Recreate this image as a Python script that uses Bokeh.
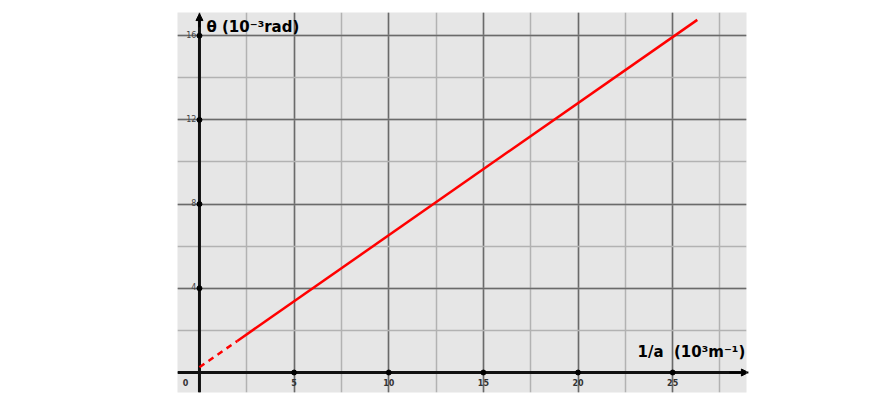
from bokeh.plotting import figure
from bokeh.models import SingleIntervalTicker, Arrow, NormalHead, Range1d
from bokeh.core.properties import value
from bokeh.embed import file_html
from bokeh.resources import INLINE

# data
x_dashed = [0.0, 2.0]
y_dashed = [0.25, 1.5]
x_solid = [2.0, 26.3]
y_solid = [1.5, 16.75]

x_ticks = [5, 10, 15, 20, 25]
x_tick_labels = ["5", "10", "15", "20", "25"]
y_ticks = [4, 8, 12, 16]
y_tick_labels = ["4", "8", "12", "16"]

x_title = "1/a\u00a0\u00a0(10³m⁻¹)"
y_title = "θ (10⁻³rad)"

FONT = "DejaVu Sans"

p = figure(width=860, height=399, output_backend="svg", toolbar_location=None,
           x_range=Range1d(-1.16, 28.9), y_range=Range1d(-0.95, 17.1),
           min_border_left=177, min_border_right=114, min_border_top=12, min_border_bottom=7)
p.axis.visible = False
p.background_fill_color = "#e6e6e6"
p.border_fill_color = "white"
p.outline_line_color = None

p.xgrid.ticker = SingleIntervalTicker(interval=5, num_minor_ticks=2)
p.ygrid.ticker = SingleIntervalTicker(interval=4, num_minor_ticks=2)
for g in (p.xgrid, p.ygrid):
    g.grid_line_color = "#6a6a6a"
    g.grid_line_width = 1.5
    g.minor_grid_line_color = "#b2b2b2"
    g.minor_grid_line_width = 1.5

# axes through the origin
p.segment(x0=[-1.16], y0=[0], x1=[28.6], y1=[0], line_color="#111111", line_width=3)
p.segment(x0=[0], y0=[-0.95], x1=[0], y1=[16.8], line_color="#111111", line_width=3)
p.add_layout(Arrow(end=NormalHead(size=7, fill_color="black", line_color="black"),
                   x_start=28.0, y_start=0, x_end=29.0, y_end=0, line_color="black", line_width=2))
p.add_layout(Arrow(end=NormalHead(size=7, fill_color="black", line_color="black"),
                   x_start=0, y_start=16.4, x_end=0, y_end=17.05, line_color="black", line_width=2))

# tick dots
p.scatter(x=x_ticks, y=[0] * len(x_ticks), size=5, color="black")
p.scatter(x=[0] * len(y_ticks), y=y_ticks, size=5, color="black")

# fit line
p.line(x_dashed, y_dashed, line_color="red", line_width=2.5, line_dash="6 5")
p.line(x_solid, y_solid, line_color="red", line_width=2.5)

# tick labels
p.text(x=x_ticks, y=[0] * len(x_ticks), text=x_tick_labels, text_align="center",
       text_baseline="top", y_offset=6, text_font=value(FONT), text_font_size="8px",
       text_font_style="bold", text_color="#333333")
p.text(x=[0], y=[0], text=["0"], text_align="center", text_baseline="top",
       x_offset=-14, y_offset=6, text_font=value(FONT), text_font_size="8px",
       text_font_style="bold", text_color="#333333")
p.text(x=[0] * len(y_ticks), y=y_ticks, text=y_tick_labels, text_align="right",
       text_baseline="bottom", x_offset=-3, y_offset=2, text_font=value(FONT),
       text_font_size="8px", text_color="#444444")

# axis titles
p.text(x=[0], y=[16.0], text=[y_title], text_align="left", text_baseline="bottom",
       x_offset=7, y_offset=0, text_font=value(FONT), text_font_size="15px",
       text_font_style="bold", text_color="black")
p.text(x=[23.3], y=[0], text=[x_title], text_align="left", text_baseline="bottom",
       x_offset=-3, y_offset=-12, text_font=value(FONT), text_font_size="15px",
       text_font_style="bold", text_color="black")

open("out.html", "w").write(file_html(p, INLINE))
